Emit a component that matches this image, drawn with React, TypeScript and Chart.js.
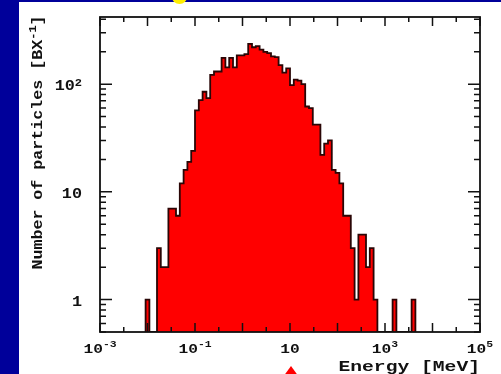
import React, { useEffect, useRef } from "react";
import { Chart, registerables } from "chart.js";

Chart.register(...registerables);

// ---- data -------------------------------------------------------------
// Histogram: 100 log-spaced bins between 1e-3 and 1e5 MeV (0.08 decade each).
const BIN_WIDTH_DECADES = 0.08;
const FIRST_BIN_LOW_EXP = -2.04; // log10(E) of the lower edge of the first listed bin
const particleCounts = [
  1, 0, 0, 3, 2, 2, 7, 7, 6, 12,
  16, 19, 24, 57, 71, 85, 74, 122, 131, 131,
  175, 143, 175, 143, 185, 185, 190, 236, 220, 225,
  209, 199, 194, 181, 178, 150, 128, 140, 98, 110,
  108, 100, 62, 60, 42, 42, 22, 28, 30, 16,
  15, 12, 6, 6, 3, 1, 4, 4, 2, 3,
  1, 0, 0, 0, 0, 1, 0, 0, 0, 0,
  1,
];

const X_MIN = 1e-3;
const X_MAX = 1e5;
const Y_MIN = 0.5;
const Y_MAX = 420;

const xLabelExponents = [-3, -1, 1, 3, 5];
const xMajorExponents = [-3, -2, -1, 0, 1, 2, 3, 4, 5];
const yLabelValues = [1, 10, 100];
const yLabelExponents = [0, 1, 2];
const yMinorMultipliers = [2, 3, 4, 5, 6, 7, 8, 9];

const X_TITLE = "Energy [MeV]";
const Y_TITLE_MAIN = "Number of particles [BX";
const Y_TITLE_SUP = "-1";
const Y_TITLE_END = "]";

// ---- styling ------------------------------------------------------------
const BLUE = "#00009a";
const FONT = '"Liberation Mono", "DejaVu Sans Mono", monospace';
const INK = "#111111";

type Part = { t: string; sup?: boolean };

function drawRich(
  ctx: CanvasRenderingContext2D,
  parts: Part[],
  x: number,
  y: number,
  align: "left" | "center" | "right",
  size: number,
  supSize: number,
  sx: number,
  raise: number
) {
  const widths = parts.map((p) => {
    ctx.font = `bold ${p.sup ? supSize : size}px ${FONT}`;
    return ctx.measureText(p.t).width * sx;
  });
  const total = widths.reduce((a, b) => a + b, 0);
  let cx = align === "center" ? x - total / 2 : align === "right" ? x - total : x;
  parts.forEach((p, i) => {
    ctx.font = `bold ${p.sup ? supSize : size}px ${FONT}`;
    ctx.save();
    ctx.translate(cx, y - (p.sup ? raise : 0));
    ctx.scale(sx, 1);
    ctx.textAlign = "left";
    ctx.fillText(p.t, 0, 0);
    ctx.restore();
    cx += widths[i];
  });
}

const decorPlugin = {
  id: "decor",
  beforeDraw(chart: any) {
    const { ctx, width, height } = chart;
    ctx.save();
    ctx.fillStyle = BLUE;
    ctx.fillRect(0, 0, width, height);
    ctx.fillStyle = "#ffffff";
    ctx.fillRect(19, 2, width - 19, height - 2);
    // yellow blob peeking from the top
    ctx.fillStyle = BLUE;
    ctx.fillRect(160, 0, 40, 2);
    ctx.beginPath();
    ctx.ellipse(179.5, -3, 7.5, 7, 0, 0, Math.PI * 2);
    ctx.fillStyle = "#ffee00";
    ctx.fill();
    // red arrow head at the bottom
    ctx.beginPath();
    ctx.moveTo(291, 366);
    ctx.lineTo(283, 377);
    ctx.lineTo(299, 377);
    ctx.closePath();
    ctx.fillStyle = "#ff0000";
    ctx.fill();
    ctx.restore();
  },
  afterDatasetsDraw(chart: any) {
    const { ctx, chartArea } = chart;
    const xs = chart.scales.x;
    const ys = chart.scales.y;
    const { left, right, top, bottom } = chartArea;
    ctx.save();
    ctx.strokeStyle = INK;
    ctx.fillStyle = INK;

    // ticks
    ctx.lineWidth = 1.5;
    ctx.beginPath();
    xMajorExponents.forEach((e) => {
      const px = xs.getPixelForValue(Math.pow(10, e));
      ctx.moveTo(px, bottom);
      ctx.lineTo(px, bottom - 9);
      ctx.moveTo(px, top);
      ctx.lineTo(px, top + 9);
      if (e < 5) {
        const pm = xs.getPixelForValue(Math.pow(10, e + 0.5));
        ctx.moveTo(pm, bottom);
        ctx.lineTo(pm, bottom - 5);
        ctx.moveTo(pm, top);
        ctx.lineTo(pm, top + 5);
      }
    });
    for (let d = -1; d <= 2; d++) {
      const base = Math.pow(10, d);
      if (base >= Y_MIN && base <= Y_MAX) {
        const py = ys.getPixelForValue(base);
        ctx.moveTo(left, py);
        ctx.lineTo(left + 12, py);
        ctx.moveTo(right, py);
        ctx.lineTo(right - 12, py);
      }
      yMinorMultipliers.forEach((m) => {
        const v = m * base;
        if (v < Y_MIN || v > Y_MAX) return;
        const py = ys.getPixelForValue(v);
        ctx.moveTo(left, py);
        ctx.lineTo(left + 6, py);
        ctx.moveTo(right, py);
        ctx.lineTo(right - 6, py);
      });
    }
    ctx.stroke();

    // frame
    ctx.lineWidth = 1.8;
    ctx.strokeRect(left, top, right - left, bottom - top);

    // x tick labels
    ctx.textBaseline = "alphabetic";
    xLabelExponents.forEach((e) => {
      const px = xs.getPixelForValue(Math.pow(10, e));
      const parts: Part[] = e === 1 ? [{ t: "10" }] : [{ t: "10" }, { t: String(e), sup: true }];
      drawRich(ctx, parts, px, bottom + 20.5, "center", 13.5, 9.5, 1.2, 6);
    });

    // y tick labels
    yLabelValues.forEach((v, i) => {
      const py = ys.getPixelForValue(v);
      const e = yLabelExponents[i];
      const parts: Part[] =
        e === 0 ? [{ t: "1" }] : e === 1 ? [{ t: "10" }] : [{ t: "10" }, { t: String(e), sup: true }];
      drawRich(ctx, parts, 82, py + 6, "right", 14, 10, 1.2, 4);
    });

    // x title
    drawRich(ctx, [{ t: X_TITLE }], right, 371, "right", 15, 10, 1.31, 0);

    // y title (rotated)
    ctx.save();
    ctx.translate(38, 142.5);
    ctx.rotate(-Math.PI / 2);
    ctx.textBaseline = "middle";
    drawRich(
      ctx,
      [{ t: Y_TITLE_MAIN }, { t: Y_TITLE_SUP, sup: true }, { t: Y_TITLE_END }],
      0,
      0,
      "center",
      14,
      10,
      1.19,
      5
    );
    ctx.restore();

    ctx.restore();
  },
};

function buildPoints() {
  const pts: { x: number; y: number }[] = [];
  const toY = (v: number) => (v > 0 ? v : Y_MIN);
  const firstLo = Math.pow(10, FIRST_BIN_LOW_EXP);
  pts.push({ x: firstLo, y: Y_MIN });
  particleCounts.forEach((v, i) => {
    const lo = Math.pow(10, FIRST_BIN_LOW_EXP + i * BIN_WIDTH_DECADES);
    const hi = Math.pow(10, FIRST_BIN_LOW_EXP + (i + 1) * BIN_WIDTH_DECADES);
    pts.push({ x: lo, y: toY(v) });
    pts.push({ x: hi, y: toY(v) });
  });
  const lastHi = Math.pow(10, FIRST_BIN_LOW_EXP + particleCounts.length * BIN_WIDTH_DECADES);
  pts.push({ x: lastHi, y: Y_MIN });
  return pts;
}

export default function App() {
  const ref = useRef<HTMLCanvasElement | null>(null);
  useEffect(() => {
    if (!ref.current) return;
    const chart = new Chart(ref.current, {
      type: "line",
      data: {
        datasets: [
          {
            data: buildPoints(),
            fill: "start",
            backgroundColor: "#ff0000",
            borderColor: "#2a0606",
            borderWidth: 1.8,
            pointRadius: 0,
            tension: 0,
          } as any,
        ],
      },
      options: {
        animation: false,
        responsive: false,
        maintainAspectRatio: false,
        layout: { padding: { left: 100, top: 17, right: 21, bottom: 42 } },
        scales: {
          x: { type: "logarithmic", min: X_MIN, max: X_MAX, display: false },
          y: { type: "logarithmic", min: Y_MIN, max: Y_MAX, display: false },
        },
        plugins: { legend: { display: false }, tooltip: { enabled: false } },
      } as any,
      plugins: [decorPlugin],
    });
    return () => chart.destroy();
  }, []);
  return (
    <div style={{ position: "fixed", left: 0, top: 0, width: 501, height: 374 }}>
      <canvas ref={ref} width={501} height={374} style={{ display: "block" }} />
    </div>
  );
}
